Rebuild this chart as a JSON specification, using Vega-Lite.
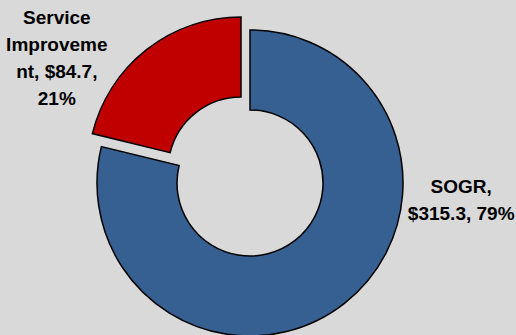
{
  "$schema": "https://vega.github.io/schema/vega-lite/v6.json",
  "background": "#D9D9D9",
  "autosize": {"type": "none"},
  "width": 500,
  "height": 306,
  "padding": {"left": 0, "top": 30, "right": 16, "bottom": 0},
  "config": {"view": {"stroke": null}},
  "data": {"values": [
    {"category": "SOGR", "value": 315.3, "label": "SOGR,\n$315.3, 79%"},
    {"category": "Service Improvement", "value": 84.7, "label": "Service\nImproveme\nnt, $84.7,\n21%"}
  ]},
  "encoding": {
    "theta": {"field": "value", "type": "quantitative", "stack": true},
    "order": {"field": "category", "type": "nominal", "sort": "ascending"}
  },
  "layer": [
    {
      "mark": {"type": "arc", "innerRadius": 73, "outerRadius": 153, "stroke": "#000000", "strokeWidth": 1.5},
      "encoding": {
        "color": {"field": "category", "type": "nominal", "scale": {"domain": ["SOGR", "Service Improvement"], "range": ["#376092", "#C00000"]}, "legend": null},
        "opacity": {"condition": {"test": "datum.category === 'SOGR'", "value": 1}, "value": 0}
      }
    },
    {
      "mark": {"type": "arc", "innerRadius": 73, "outerRadius": 153, "stroke": "#000000", "strokeWidth": 1.5, "xOffset": -9, "yOffset": -13},
      "encoding": {
        "color": {"field": "category", "type": "nominal", "scale": {"domain": ["SOGR", "Service Improvement"], "range": ["#376092", "#C00000"]}, "legend": null},
        "opacity": {"condition": {"test": "datum.category === 'Service Improvement'", "value": 1}, "value": 0}
      }
    },
    {
      "mark": {"type": "text", "radius": 185, "dx": 97, "dy": -142, "font": "Liberation Sans", "fontWeight": "bold", "fontSize": 19, "lineHeight": 27, "lineBreak": "\n", "align": "center", "baseline": "middle", "color": "#000000"},
      "encoding": {
        "text": {"field": "label", "type": "nominal"},
        "opacity": {"condition": {"test": "datum.category === 'SOGR'", "value": 1}, "value": 0}
      }
    },
    {
      "mark": {"type": "text", "radius": 185, "dx": -79, "dy": -19, "font": "Liberation Sans", "fontWeight": "bold", "fontSize": 19, "lineHeight": 27, "lineBreak": "\n", "align": "center", "baseline": "middle", "color": "#000000"},
      "encoding": {
        "text": {"field": "label", "type": "nominal"},
        "opacity": {"condition": {"test": "datum.category === 'Service Improvement'", "value": 1}, "value": 0}
      }
    }
  ]
}
